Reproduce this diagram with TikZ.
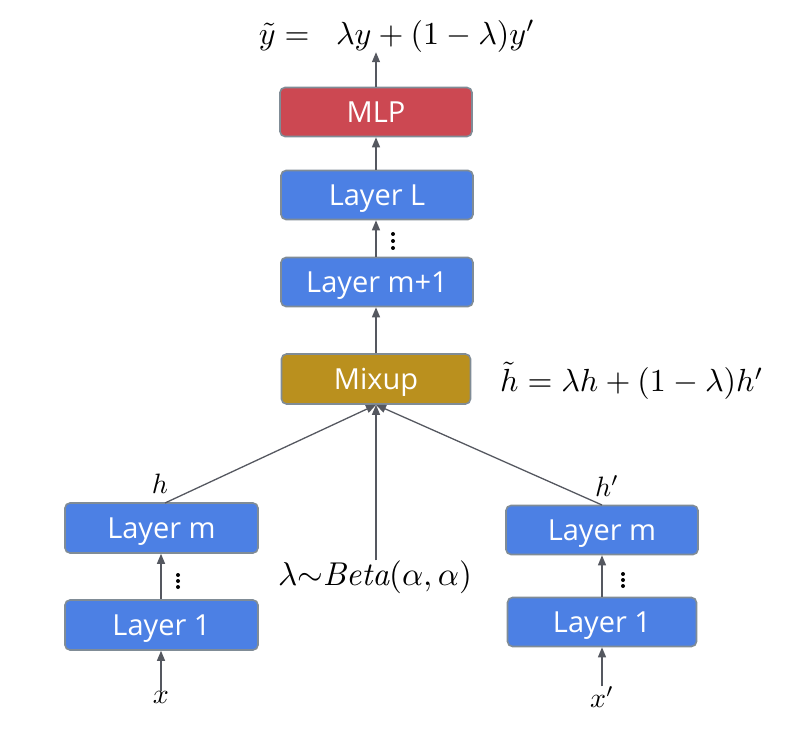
\documentclass[tikz,border=0pt]{standalone}
\usepackage{graphicx}
\usepackage{fontspec}
\setsansfont{Open Sans}
\usetikzlibrary{arrows.meta}
\definecolor{boxblue}{RGB}{76,128,228}
\definecolor{boxred}{RGB}{204,72,82}
\definecolor{boxgold}{RGB}{186,144,30}
\definecolor{boxborder}{RGB}{128,140,150}
\definecolor{arrowgrey}{RGB}{85,88,96}
\tikzset{
  layer/.style={draw=boxborder, line width=1.6pt, rounded corners=5pt,
    minimum width=192pt, minimum height=49pt, inner sep=0pt, text=white,
    text height=20.7pt, text depth=0pt,
    font=\sffamily\fontsize{29}{32}\selectfont},
  conn/.style={draw=arrowgrey, line width=1.3pt, -{Triangle[length=10pt,width=8pt]}},
  mathlbl/.style={inner sep=0pt},
  dotmark/.style={fill=black, circle, inner sep=0pt, minimum size=4pt}
}
\newcommand{\scalemath}[2]{\scalebox{#1}{$#2$}}
\begin{document}
\begin{tikzpicture}[x=1pt,y=-1pt]
\useasboundingbox (0,0) rectangle (796,746);
% boxes
\node[layer, fill=boxred] (mlp) at (376,112) {MLP};
\node[layer, fill=boxblue] (layL) at (377,195) {Layer L};
\node[layer, fill=boxblue] (laym1) at (377,282) {Layer m+1};
\node[layer, fill=boxgold, minimum width=189pt, minimum height=50pt] (mix) at (376,379) {Mixup};
\node[layer, fill=boxblue, minimum width=193pt, minimum height=50pt] (lm) at (161.5,528) {Layer m};
\node[layer, fill=boxblue, minimum width=193pt, minimum height=50pt] (l1) at (161.5,625) {Layer 1};
\node[layer, fill=boxblue] (rm) at (602,530) {Layer m};
\node[layer, fill=boxblue, minimum width=189pt] (r1) at (602,622) {Layer 1};
% labels
\node[mathlbl] (ytil) at (397,36) {\scalemath{3.2}{\tilde{y} =\;\; \lambda y + (1-\lambda)y'}};
\node[mathlbl, anchor=west] (htil) at (500,381) {\scalemath{3.2}{\tilde{h} = \lambda h + (1-\lambda)h'}};
\node[mathlbl] (beta) at (375,577) {\scalemath{3.3}{\lambda{\sim}\mathit{Beta}(\alpha,\alpha)}};
\node[mathlbl] (hl) at (160,484) {\scalemath{2.8}{h}};
\node[mathlbl] (hr) at (607,486) {\scalemath{2.8}{h'}};
\node[mathlbl] (xl) at (161,697) {\scalemath{2.8}{x}};
\node[mathlbl] (xr) at (602,697) {\scalemath{2.8}{x'}};
% connectors
\draw[conn] (mlp.north) -- (ytil.south -| mlp.north);
\draw[conn] (layL.north -| mlp.south) -- (mlp.south);
\draw[conn] (laym1.north -| mlp.south) -- (layL.south -| mlp.south);
\draw[conn] (mix.north) -- (laym1.south -| mix.north);
\coordinate (lmtop) at (165,503);
\coordinate (rmtop) at (602,505);
\draw[conn] (lmtop) -- (mix.south);
\draw[conn] (rmtop) -- (mix.south);
\draw[conn] (beta.north -| mix.south) -- (mix.south);
\draw[conn] (l1.north -| 161,0) -- (lm.south -| 161,0);
\draw[conn] (xl.north) -- (l1.south -| xl.north);
\draw[conn] (r1.north) -- (rm.south -| r1.north);
\draw[conn] (xr.north) -- (r1.south -| xr.north);
% vertical dots
\foreach \yy in {234,241,248} \node[dotmark] at (393,\yy) {};
\foreach \yy in {575,581,587} \node[dotmark] at (178,\yy) {};
\foreach \yy in {574,580,586} \node[dotmark] at (623,\yy) {};
\end{tikzpicture}
\end{document}
